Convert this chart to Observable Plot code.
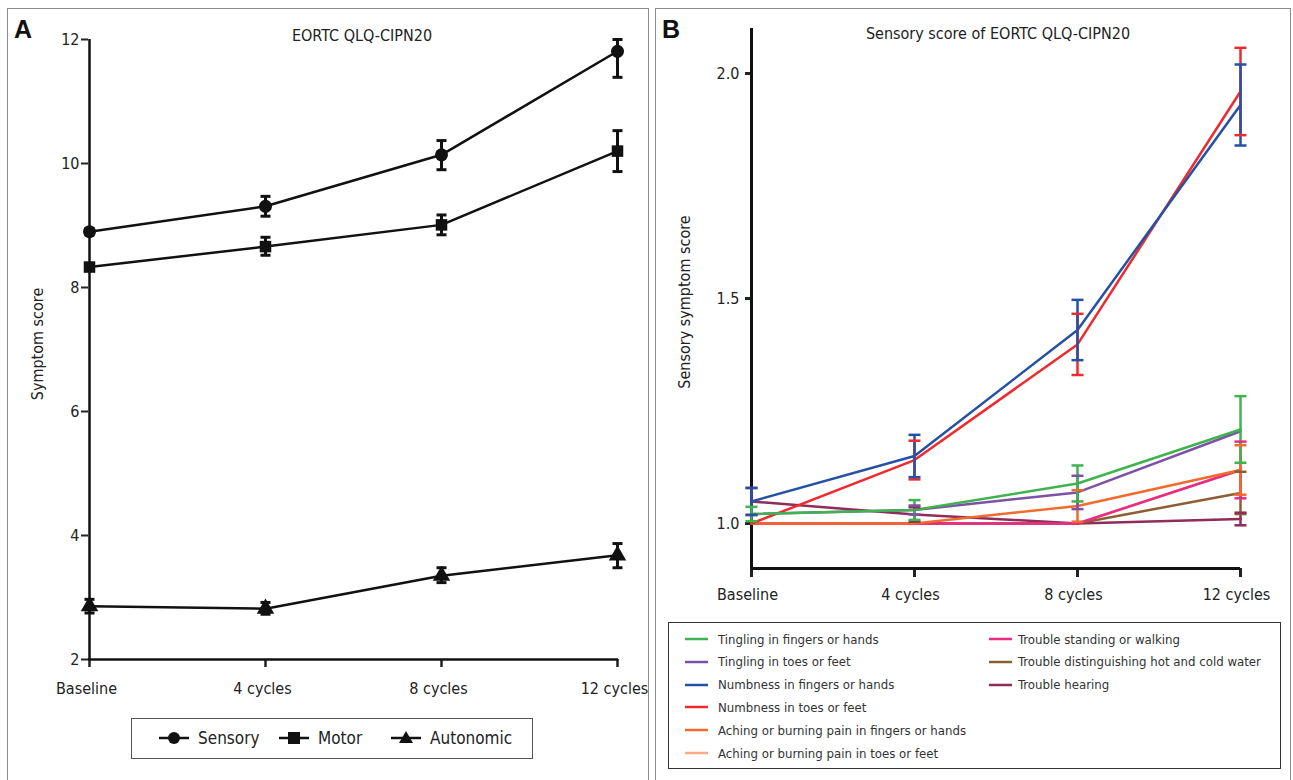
<!DOCTYPE html>
<html><head><meta charset="utf-8">
<script src="https://cdn.jsdelivr.net/npm/d3@7"></script>
<script src="https://cdn.jsdelivr.net/npm/@observablehq/plot@0.6"></script>
<style>
html,body{margin:0;padding:0;background:#fff;}
body{width:1293px;height:780px;position:relative;overflow:hidden;
 font-family:"Liberation Sans Narrow","DejaVu Sans Condensed","Open Sans",sans-serif;font-stretch:condensed;color:#222;}
.panel{position:absolute;border:1px solid #8c8c8c;background:#fff;box-sizing:border-box;}
.abs{position:absolute;white-space:nowrap;}
.letter{font-family:"Liberation Sans",Arial,sans-serif;font-weight:bold;font-size:25px;color:#111;font-stretch:normal;}
.title{font-size:16px;color:#222;transform:translateX(-50%);}
.ylab{font-size:16px;color:#222;transform:translate(-50%,-50%) rotate(-90deg);}
.plot{position:absolute;}
.legA{position:absolute;left:131px;top:718px;width:402px;height:41px;border:1px solid #555;box-sizing:border-box;background:#fff;}
.legB{position:absolute;left:668px;top:622px;width:613px;height:147px;border:1px solid #333;box-sizing:border-box;background:#fff;}
.item{position:absolute;display:flex;align-items:center;white-space:nowrap;}
.legA .item span{font-size:17px;color:#222;}
.legB .item span{font-size:13.1px;color:#333;}
</style>
</head><body>
<div class="panel" style="left:7px;top:8px;width:642px;height:790px;"></div>
<div class="panel" style="left:655px;top:8px;width:636px;height:790px;"></div>
<div class="abs letter" style="left:14px;top:15px;">A</div>
<div class="abs letter" style="left:662px;top:15px;">B</div>
<div class="abs title" style="left:362px;top:26px;">EORTC QLQ-CIPN20</div>
<div class="abs title" style="left:998px;top:24px;">Sensory score of EORTC QLQ-CIPN20</div>
<div class="abs ylab" style="left:37px;top:344px;">Symptom score</div>
<div class="abs ylab" style="left:684px;top:302px;">Sensory symptom score</div>
<div id="plotA" class="plot" style="left:0;top:0;"></div>
<div id="plotB" class="plot" style="left:655px;top:0;"></div>
<div class="legA" id="legA"></div>
<div class="legB" id="legB"></div>
<script>
// ---------- shared ----------
const timepoints = ["Baseline", "4 cycles", "8 cycles", "12 cycles"];

// ---------- Panel A data ----------
const seriesA = ["Sensory", "Motor", "Autonomic"];
const symbolsA = ["circle", "square", "triangle"];
const sensoryMean = [8.90, 9.31, 10.14, 11.81];
const sensoryLo   = [8.85, 9.15, 9.90, 11.39];
const sensoryHi   = [8.95, 9.47, 10.37, 12.00];
const motorMean = [8.33, 8.66, 9.01, 10.20];
const motorLo   = [8.28, 8.52, 8.85, 9.87];
const motorHi   = [8.38, 8.81, 9.17, 10.53];
const autonomicMean = [2.86, 2.82, 3.35, 3.68];
const autonomicLo   = [2.75, 2.73, 3.24, 3.48];
const autonomicHi   = [2.97, 2.92, 3.48, 3.87];
const yTicksA = [2, 4, 6, 8, 10, 12];

// ---------- Panel B data ----------
const seriesB = [
  "Tingling in fingers or hands",
  "Tingling in toes or feet",
  "Numbness in fingers or hands",
  "Numbness in toes or feet",
  "Aching or burning pain in fingers or hands",
  "Aching or burning pain in toes or feet",
  "Trouble standing or walking",
  "Trouble distinguishing hot and cold water",
  "Trouble hearing"
];
const colorsB = ["#3fb34f", "#7d52a6", "#2451a4", "#ee2a2e", "#f26a2c", "#f6ab80", "#ea2a84", "#8c5e33", "#8f2c57"];
const tinglingFingersMean = [1.021, 1.030, 1.089, 1.209];
const tinglingFingersErr  = [0.016, 0.022, 0.040, 0.074];
const tinglingToesMean = [1.021, 1.030, 1.069, 1.205];
const tinglingToesErr  = [0, 0.010, 0.037, 0];
const numbFingersMean = [1.049, 1.150, 1.430, 1.930];
const numbFingersErr  = [0.030, 0.047, 0.067, 0.090];
const numbToesMean = [1.000, 1.141, 1.398, 1.960];
const numbToesErr  = [0, 0.043, 0.068, 0.097];
const achingFingersMean = [1.000, 1.000, 1.039, 1.119];
const achingFingersErr  = [0, 0, 0.035, 0.055];
const achingToesMean = [1.000, 1.000, 1.000, 1.119];
const achingToesErr  = [0, 0, 0, 0];
const standingMean = [1.000, 1.000, 1.000, 1.119];
const standingErr  = [0, 0, 0, 0.063];
const hotColdMean = [1.000, 1.000, 1.000, 1.068];
const hotColdErr  = [0, 0, 0, 0.047];
const hearingMean = [1.049, 1.020, 1.000, 1.010];
const hearingErr  = [0.030, 0.016, 0, 0.014];
const yTicksB = [1.0, 1.5, 2.0];
const yDomainB = [0.9, 2.1];
// drawing order (first drawn is at the bottom)
const drawOrderB = [5, 8, 7, 6, 4, 3, 2, 1, 0];

// ---------- helpers ----------
const capSymbol = {draw(ctx, size) { const r = Math.sqrt(size / Math.PI); ctx.moveTo(-r, 0); ctx.lineTo(r, 0); }};
const fontFam = '"Liberation Sans Narrow","DejaVu Sans Condensed","Open Sans",sans-serif';

// ---------- Panel A ----------
const meansA = [sensoryMean, motorMean, autonomicMean];
const losA = [sensoryLo, motorLo, autonomicLo];
const hisA = [sensoryHi, motorHi, autonomicHi];
const rowsA = [];
seriesA.forEach((s, i) => timepoints.forEach((t, j) => rowsA.push({series: s, sym: symbolsA[i], t, mean: meansA[i][j], lo: losA[i][j], hi: hisA[i][j]})));

const plotA = Plot.plot({
  width: 650, height: 710,
  marginLeft: 88, marginRight: 32, marginTop: 39, marginBottom: 51,
  style: {background: "transparent", fontFamily: fontFam, fontSize: "16px", color: "#222", overflow: "visible"},
  x: {type: "point", domain: timepoints, padding: 0},
  y: {domain: [yTicksA[0], yTicksA[yTicksA.length - 1]]},
  symbol: {domain: seriesA, range: symbolsA},
  marks: [
    Plot.axisY({ticks: yTicksA, tickSize: 7, tickPadding: 2, label: null, fontSize: 16, strokeWidth: 2}),
    Plot.axisX({tickSize: 8, tickFormat: () => "", label: null, strokeWidth: 2.5}),
    Plot.axisX({tickSize: 0, tickPadding: 23, label: null, fontSize: 16, dx: -3}),
    Plot.ruleX([timepoints[0]], {stroke: "#111", strokeWidth: 2.5}),
    Plot.ruleY([yTicksA[0]], {stroke: "#111", strokeWidth: 2.5}),
    Plot.line(rowsA, {x: "t", y: "mean", z: "series", stroke: "#111", strokeWidth: 2.5}),
    Plot.ruleX(rowsA, {x: "t", y1: "lo", y2: "hi", stroke: "#111", strokeWidth: 3}),
    Plot.dot(rowsA, {x: "t", y: "lo", symbol: () => capSymbol, r: 5, stroke: "#111", fill: "none", strokeWidth: 3}),
    Plot.dot(rowsA, {x: "t", y: "hi", symbol: () => capSymbol, r: 5, stroke: "#111", fill: "none", strokeWidth: 3}),
    Plot.dot(rowsA, {x: "t", y: "mean", symbol: "series", r: 6.5, fill: "#111", stroke: "none"})
  ]
});
document.getElementById("plotA").appendChild(plotA);

// ---------- Panel B ----------
const meansB = [tinglingFingersMean, tinglingToesMean, numbFingersMean, numbToesMean, achingFingersMean, achingToesMean, standingMean, hotColdMean, hearingMean];
const errsB = [tinglingFingersErr, tinglingToesErr, numbFingersErr, numbToesErr, achingFingersErr, achingToesErr, standingErr, hotColdErr, hearingErr];
const rowsB = [];
drawOrderB.forEach(i => timepoints.forEach((t, j) => rowsB.push({series: seriesB[i], t, mean: meansB[i][j], err: errsB[i][j], lo: meansB[i][j] - errsB[i][j], hi: meansB[i][j] + errsB[i][j]})));
const errRowsB = rowsB.filter(d => d.err > 0);

const plotB = Plot.plot({
  width: 638, height: 610,
  marginLeft: 96, marginRight: 53, marginTop: 28, marginBottom: 42,
  style: {background: "transparent", fontFamily: fontFam, fontSize: "16px", color: "#222", overflow: "visible"},
  x: {type: "point", domain: timepoints, padding: 0},
  y: {domain: yDomainB},
  color: {domain: seriesB, range: colorsB},
  marks: [
    Plot.axisY({ticks: yTicksB, tickFormat: d3.format(".1f"), tickSize: 6, tickPadding: 6, label: null, fontSize: 16, strokeWidth: 3}),
    Plot.axisX({tickSize: 9, tickFormat: () => "", label: null, strokeWidth: 3}),
    Plot.axisX({tickSize: 0, tickPadding: 20, label: null, fontSize: 16, dx: -4}),
    Plot.ruleX([timepoints[0]], {stroke: "#111", strokeWidth: 3}),
    Plot.ruleY([yDomainB[0]], {stroke: "#111", strokeWidth: 3}),
    Plot.line(rowsB, {x: "t", y: "mean", z: "series", stroke: "series", strokeWidth: 2.5}),
    Plot.ruleX(errRowsB, {x: "t", y1: "lo", y2: "hi", stroke: "series", strokeWidth: 2.5}),
    Plot.dot(errRowsB, {x: "t", y: "lo", symbol: () => capSymbol, r: 6, stroke: "series", fill: "none", strokeWidth: 2.5}),
    Plot.dot(errRowsB, {x: "t", y: "hi", symbol: () => capSymbol, r: 6, stroke: "series", fill: "none", strokeWidth: 2.5})
  ]
});
document.getElementById("plotB").appendChild(plotB);

// ---------- Legend A ----------
const legA = document.getElementById("legA");
const legAX = [27, 147, 259];
const symPaths = {
  circle: '<circle cx="15" cy="10" r="6" fill="#111"/>',
  square: '<rect x="9" y="4" width="12" height="12" fill="#111"/>',
  triangle: '<path d="M15,3 L22,15 L8,15 Z" fill="#111"/>'
};
seriesA.forEach((s, i) => {
  const el = document.createElement("div");
  el.className = "item";
  el.style.left = legAX[i] + "px"; el.style.top = "9px";
  el.innerHTML = `<svg width="30" height="20" style="margin-right:9px"><line x1="0" x2="30" y1="10" y2="10" stroke="#111" stroke-width="2.5"/>${symPaths[symbolsA[i]]}</svg><span>${s}</span>`;
  legA.appendChild(el);
});

// ---------- Legend B ----------
const legB = document.getElementById("legB");
seriesB.forEach((s, i) => {
  const col = i < 6 ? 0 : 1;
  const row = i < 6 ? i : i - 6;
  const el = document.createElement("div");
  el.className = "item";
  el.style.left = (col === 0 ? 16 : 320) + "px";
  el.style.top = (6 + row * 22.8) + "px";
  el.innerHTML = `<svg width="23" height="20" style="margin-right:${col === 0 ? 10 : 6}px"><line x1="0" x2="23" y1="10" y2="10" stroke="${colorsB[i]}" stroke-width="2.5"/></svg><span>${s}</span>`;
  legB.appendChild(el);
});
</script>
</body></html>
